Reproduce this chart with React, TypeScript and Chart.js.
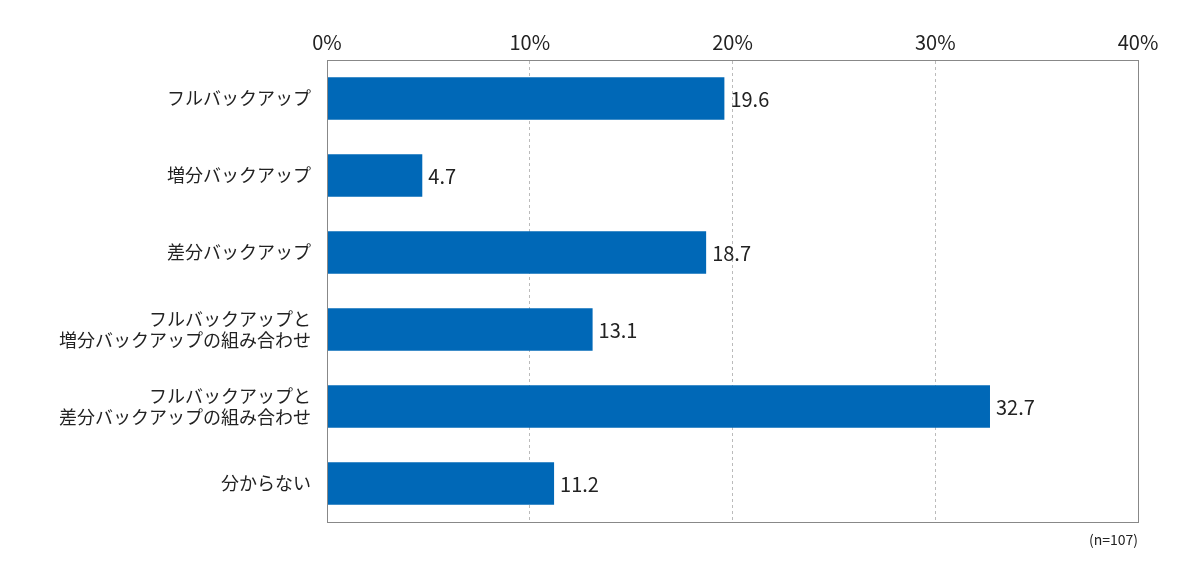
import React, { useEffect, useRef } from "react";
import { Chart, registerables } from "chart.js";
Chart.register(...registerables);

const categories: (string | string[])[] = [
  "フルバックアップ",
  "増分バックアップ",
  "差分バックアップ",
  ["フルバックアップと", "増分バックアップの組み合わせ"],
  ["フルバックアップと", "差分バックアップの組み合わせ"],
  "分からない",
];
const values = [19.6, 4.7, 18.7, 13.1, 32.7, 11.2];
const tickValues = [0, 10, 20, 30, 40];
const note = "(n=107)";
const FONT = "'Noto Sans CJK JP', 'Noto Sans', sans-serif";

export default function App() {
  const ref = useRef<HTMLCanvasElement>(null);
  useEffect(() => {
    document.body.style.margin = "0";
    const labelPlugin = {
      id: "lbl",
      afterDatasetsDraw(chart: any) {
        const ctx = chart.ctx;
        const meta = chart.getDatasetMeta(0);
        ctx.save();
        ctx.font = `20px ${FONT}`;
        ctx.fillStyle = "#222";
        ctx.textBaseline = "middle";
        meta.data.forEach((b: any, i: number) => {
          ctx.fillText(values[i].toFixed(1), b.x + 6, b.y + 1);
        });
        ctx.font = `14px ${FONT}`;
        ctx.textAlign = "right";
        ctx.fillText(note, chart.chartArea.right, chart.chartArea.bottom + 18);
        ctx.restore();
      },
    };
    const chart = new Chart(ref.current!, {
      type: "bar",
      data: {
        labels: categories,
        datasets: [{ data: values, backgroundColor: "#0068b7", barPercentage: 0.55, categoryPercentage: 1 }],
      },
      options: {
        animation: false,
        responsive: false,
        indexAxis: "y",
        layout: { padding: { left: 0, right: 62, top: 0, bottom: 53 } },
        plugins: { legend: { display: false }, tooltip: { enabled: false } },
        scales: {
          x: {
            position: "top",
            min: 0,
            max: 40,
            afterBuildTicks: (s: any) => { s.ticks = tickValues.map((v) => ({ value: v })); },
            afterFit: (s: any) => { s.height = 60; },
            ticks: { callback: (v: any) => v + "%", color: "#222", font: { family: FONT, size: 20 }, padding: 6 },
            grid: { color: "#bbb", drawTicks: false, tickBorderDash: [3, 3] } as any,
            border: { color: "#888", dash: [3, 3] } as any,
          },
          y: {
            afterFit: (s: any) => { s.width = 327; },
            ticks: { color: "#222", font: { family: FONT, size: 18 }, padding: 8 },
            grid: { display: false },
            border: { color: "#888" },
          },
        },
      },
      plugins: [
        labelPlugin,
        {
          id: "frame",
          afterDraw(chart: any) {
            const { ctx, chartArea: a } = chart;
            ctx.save();
            ctx.strokeStyle = "#888";
            ctx.lineWidth = 1;
            ctx.strokeRect(a.left + 0.5, a.top + 0.5, a.right - a.left, a.bottom - a.top);
            ctx.restore();
          },
        },
      ],
    } as any);
    return () => chart.destroy();
  }, []);
  return (
    <div style={{ position: "absolute", left: 0, top: 0, width: 1200, height: 575 }}>
      <canvas ref={ref} width={1200} height={575} />
    </div>
  );
}
